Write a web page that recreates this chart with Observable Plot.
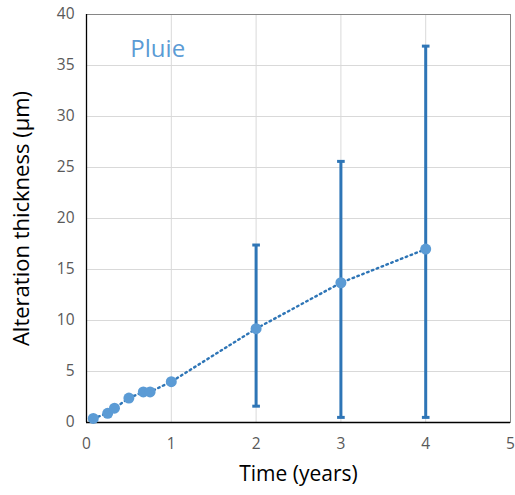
<!DOCTYPE html>
<html>
<head>
<meta charset="utf-8">
<script src="https://cdn.jsdelivr.net/npm/d3@7"></script>
<script src="https://cdn.jsdelivr.net/npm/@observablehq/plot@0.6"></script>
<style>
  html, body { margin: 0; padding: 0; background: #fff; }
  svg { display: block; }
</style>
</head>
<body>
<div id="chart"></div>
<script>
// Data
const years = [0.08, 0.25, 0.33, 0.5, 0.67, 0.75, 1, 2, 3, 4];
const thickness = [0.4, 0.9, 1.4, 2.4, 3.0, 3.0, 4.0, 9.2, 13.7, 17.0];
const errYears = [2, 3, 4];
const errLow = [1.6, 0.5, 0.5];
const errHigh = [17.4, 25.6, 36.9];
const xTicks = [0, 1, 2, 3, 4, 5];
const yTicks = [0, 5, 10, 15, 20, 25, 30, 35, 40];
const annotation = [{x: 0.84, y: 36.6, text: "Pluie"}];

const pts = years.map((x, i) => ({x, y: thickness[i]}));
const errs = errYears.map((x, i) => ({x, lo: errLow[i], hi: errHigh[i]}));
const capHalf = 0.045;

const font = "'Open Sans', Lato, sans-serif";
const dark = "#2E75B6", light = "#5B9BD5";

const chart = Plot.plot({
  width: 515,
  height: 495,
  marginLeft: 86,
  marginRight: 5,
  marginTop: 14,
  marginBottom: 73,
  style: {fontFamily: font, fontSize: "15px", color: "#595959", background: "#fff"},
  x: {domain: [0, 5], ticks: xTicks, grid: false},
  y: {domain: [0, 40], ticks: yTicks, grid: false},
  marks: [
    Plot.gridX(xTicks, {stroke: "#D9D9D9", strokeOpacity: 1, strokeWidth: 1}),
    Plot.gridY(yTicks, {stroke: "#D9D9D9", strokeOpacity: 1, strokeWidth: 1}),
    Plot.frame({stroke: "#868686", strokeWidth: 1}),
    Plot.axisX(xTicks, {tickSize: 0, tickPadding: 15, fontSize: 15.5, fill: "#595959",
      label: "Time (years)", labelAnchor: "center", labelArrow: "none", labelOffset: 58}),
    Plot.axisY(yTicks, {tickSize: 0, tickPadding: 12, fontSize: 15.5, fill: "#595959",
      label: "Alteration thickness (µm)", labelAnchor: "center", labelArrow: "none", labelOffset: 73}),
    Plot.ruleX([0], {stroke: "#000", strokeWidth: 1.3}),
    Plot.ruleY([0], {stroke: "#000", strokeWidth: 1.3}),
    Plot.line(pts, {x: "x", y: "y", stroke: dark, strokeWidth: 2.4, strokeDasharray: "1.6,3.6"}),
    Plot.ruleX(errs, {x: "x", y1: "lo", y2: "hi", stroke: dark, strokeWidth: 3}),
    Plot.link(errs, {x1: d => d.x - capHalf, x2: d => d.x + capHalf, y1: "lo", y2: "lo", stroke: dark, strokeWidth: 3}),
    Plot.link(errs, {x1: d => d.x - capHalf, x2: d => d.x + capHalf, y1: "hi", y2: "hi", stroke: dark, strokeWidth: 3}),
    Plot.dot(pts, {x: "x", y: "y", r: 5.5, fill: light, stroke: "none"}),
    Plot.text(annotation, {x: "x", y: "y", text: "text", fill: light, fontSize: 24, fontFamily: font})
  ]
});
d3.select(chart).selectAll("[aria-label='x-axis label'] text")
  .style("font-size", "21px").style("font-weight", "normal").attr("fill", "#000");
d3.select(chart).selectAll("[aria-label='y-axis label'] text")
  .style("font-size", "22px").style("font-weight", "normal").attr("fill", "#000");
document.getElementById("chart").appendChild(chart);
</script>
</body>
</html>
